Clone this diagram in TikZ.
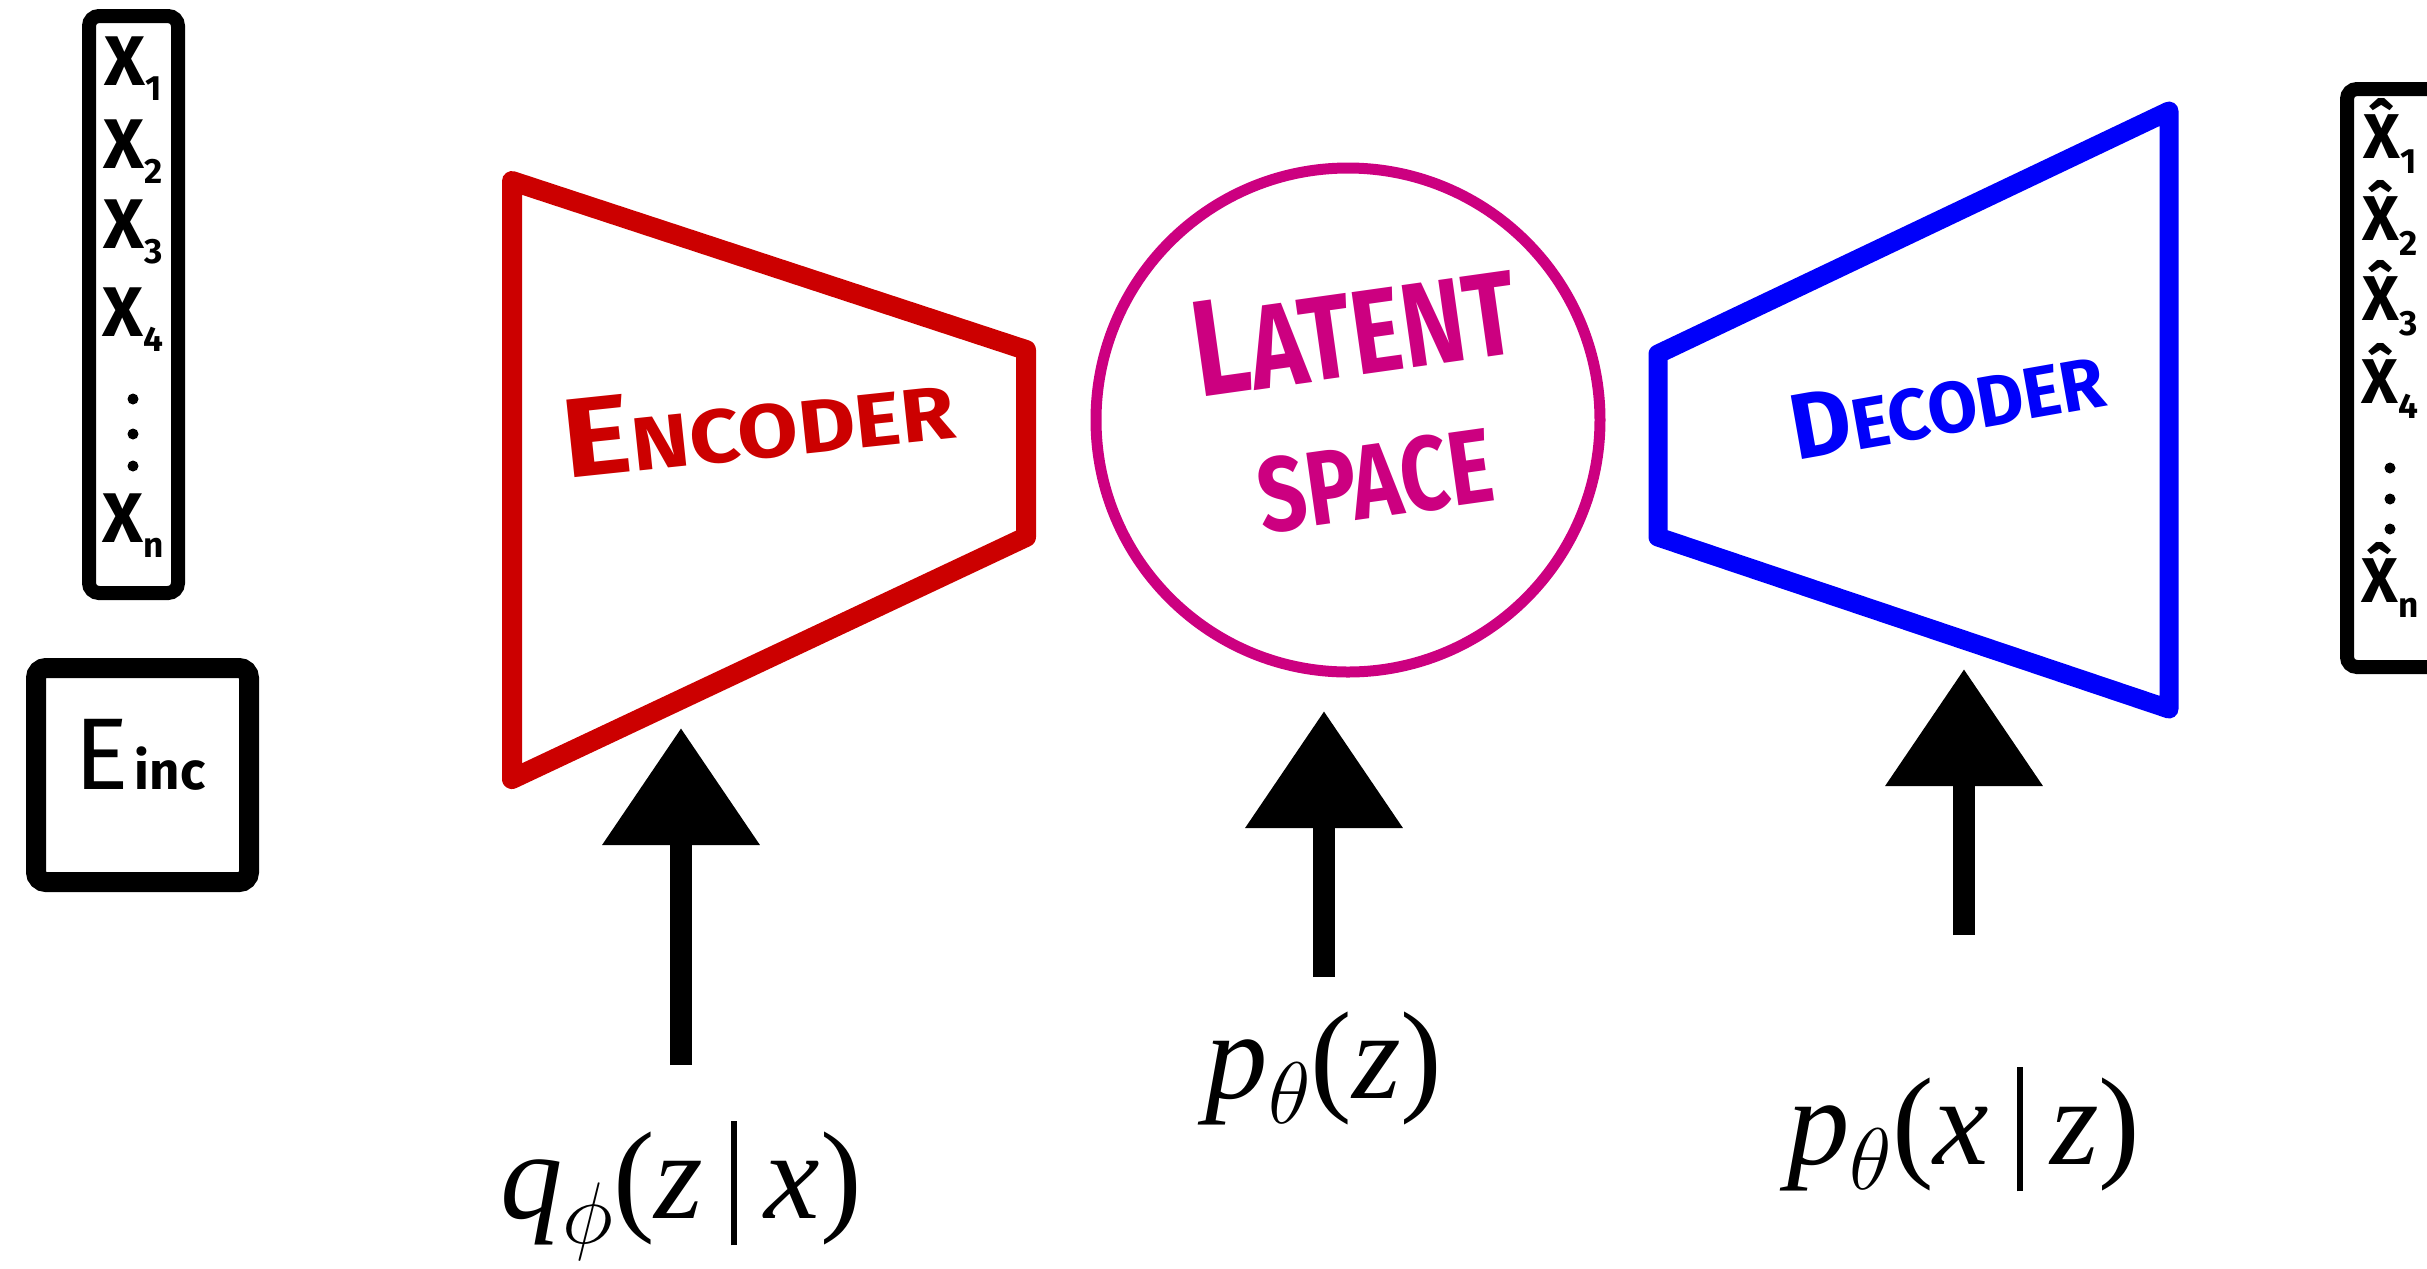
\documentclass[tikz,border=0pt]{standalone}
\usepackage{fontspec}
\newfontfamily\hand{Fira Sans}
\newfontfamily\probfont{Liberation Serif}
\usetikzlibrary{arrows.meta}
\definecolor{encred}{RGB}{204,0,0}
\definecolor{latmag}{RGB}{204,0,128}
\definecolor{decblue}{RGB}{0,0,250}
\tikzset{
  frame/.style={draw,line width=1.4mm,rounded corners=1mm},
  trap/.style={line width=2mm,line join=round},
  hw/.style={font=\hand\bfseries,inner sep=0pt,transform shape},
  bigarr/.style={line width=2.2mm,-{Triangle[width=15.2mm,length=11.7mm]}},
  prob/.style={font=\probfont\fontsize{35.5}{40}\selectfont,anchor=base,inner sep=0pt}
}
\newcommand{\hwword}[4]{{\fontsize{#1}{#1}\selectfont #3}{\fontsize{#2}{#2}\selectfont #4}}
\newcommand{\xsub}[3]{{\fontsize{#1}{#1}\selectfont #2}\raisebox{-0.8ex}{\fontsize{10}{10}\selectfont #3}}
\newcommand{\dsub}[1]{\raisebox{-0.45ex}{$\scriptstyle#1$}}
\newcommand{\given}{\hspace{0.22em}\rule[-0.22em]{0.05em}{1.0em}\hspace{0.22em}}

\begin{document}
\begin{tikzpicture}[x=0.1mm,y=-0.1mm,
 xs/.style={font=\hand\bfseries,inner sep=0pt},
 dot/.style={circle,fill,inner sep=0pt,minimum size=1.1mm}]
\useasboundingbox (0,0) rectangle (2427,1268);
% input column
\draw[frame] (89,16) rectangle (178,593);
\foreach \y/\t [count=\i] in {69/1,152/2,232/3,320/4,526/n}
  \node[xs] (x\i) at (133,\y) {\xsub{20}{X}{\t}};
\foreach \y [count=\i] in {399,434,466}
  \node[dot] (xd\i) at (133,\y) {};
\draw[frame,line width=2mm] (36,668) rectangle (249,882);
\node[inner sep=0pt,font=\hand] (einc) at (140,755) {{\fontsize{29}{29}\selectfont E}\,{\fontsize{15}{15}\selectfont\bfseries inc}};
% output column
\draw[frame] (2347,89) rectangle (2480,667);
\foreach \y/\t [count=\i] in {136/1,218/2,298/3,381/4,580/n}
  \node[xs] (xh\i) at (2390,\y) {\xsub{18}{\^X}{\t}};
\foreach \y [count=\i] in {468,499,529}
  \node[dot] (xhd\i) at (2390,\y) {};
% encoder
\draw[trap,encred] (512,181) -- (1026,350) -- (1026,537) -- (512,779) -- cycle;
\node[hw,encred,rotate=6,xscale=1.16] (encl) at (758,420) {\hwword{32}{21.5}{E}{NCODER}};
% latent space
\node[circle,draw=latmag,line width=1.1mm,minimum size=50.4mm] (lat) at (1348,420) {};
\node[hw,latmag,rotate=8,xscale=0.8,align=center,font=\hand\bfseries\fontsize{30}{40.7}\selectfont] (latl) at (1364,400) {\hwword{39}{34}{L}{ATENT}\\SPACE};
% decoder
\draw[trap,decblue,line width=1.9mm] (1658,354) -- (2169,111) -- (2169,709) -- (1658,537) -- cycle;
\node[hw,decblue,rotate=10] (decl) at (1947,402) {\hwword{26.5}{20.5}{D}{ECODER}};
% distributions
\coordinate (qtip) at (681,728);
\coordinate (qtail) at (681,1065);
\coordinate (ptip) at (1324,711);
\coordinate (ptail) at (1324,977);
\coordinate (ltip) at (1964,669);
\coordinate (ltail) at (1964,935);
\draw[bigarr] (qtail) -- (qtip);
\draw[bigarr] (ptail) -- (ptip);
\draw[bigarr] (ltail) -- (ltip);
\node[prob] (qlab) at (681,1218) {\textit{q}\dsub{\phi}(\textit{z}\given\textit{x})};
\node[prob] (plab) at (1324,1098) {\textit{p}\dsub{\theta}(\textit{z})};
\node[prob] (llab) at (1964,1164) {\textit{p}\dsub{\theta}(\textit{x}\given\textit{z})};
\end{tikzpicture}
\end{document}
